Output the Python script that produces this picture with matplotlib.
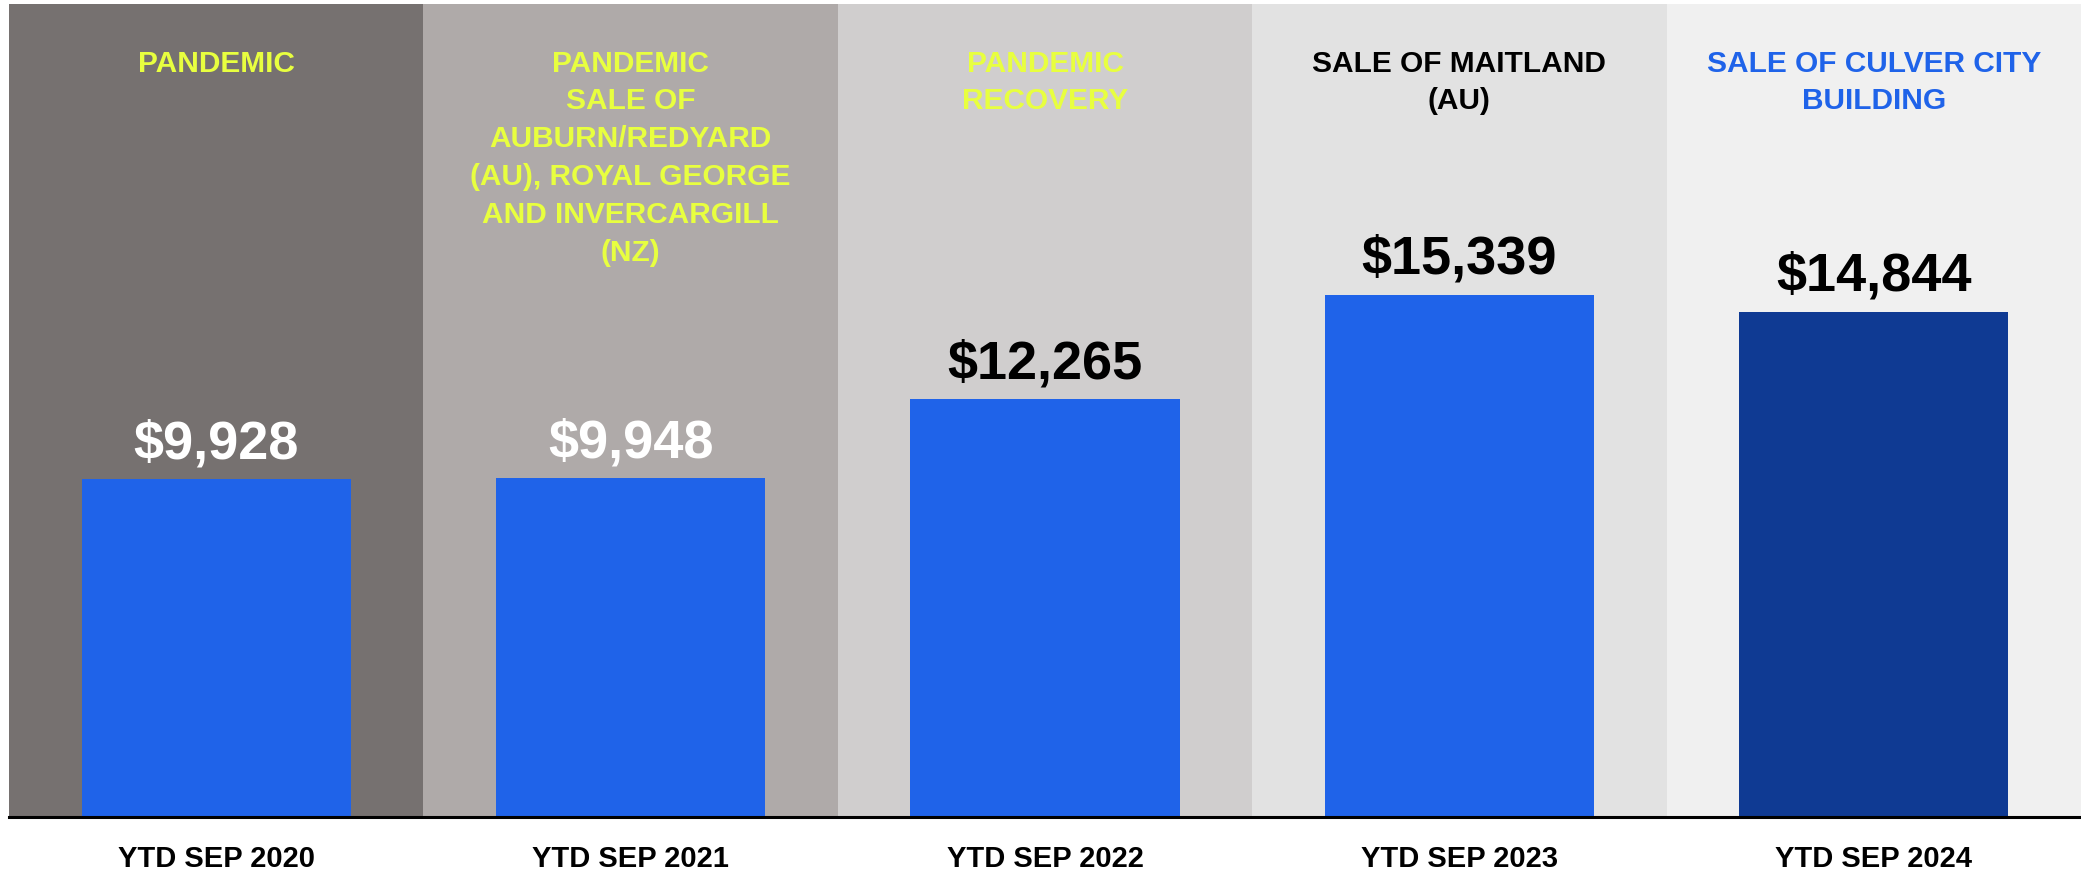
import matplotlib
matplotlib.use("Agg")
import matplotlib.pyplot as plt

# chart data
periods = ["YTD SEP 2020", "YTD SEP 2021", "YTD SEP 2022", "YTD SEP 2023", "YTD SEP 2024"]
values = [9928, 9948, 12265, 15339, 14844]
value_labels = ["$9,928", "$9,948", "$12,265", "$15,339", "$14,844"]
notes = [
	"PANDEMIC",
	"PANDEMIC\nSALE OF\nAUBURN/REDYARD\n(AU), ROYAL GEORGE\nAND INVERCARGILL\n(NZ)",
	"PANDEMIC\nRECOVERY",
	"SALE OF MAITLAND\n(AU)",
	"SALE OF CULVER CITY\nBUILDING",
]

# styling
panel_colors = ["#767170", "#afaaa9", "#d0cece", "#e2e2e2", "#f0f0f0"]
bar_colors = ["#1f63e9", "#1f63e9", "#1f63e9", "#1f63e9", "#0f3a93"]
label_colors = ["white", "white", "black", "black", "black"]
note_colors = ["#e8ff3f", "#e8ff3f", "#e8ff3f", "black", "#1f63e9"]

plt.rcParams["font.family"] = ["Liberation Sans", "DejaVu Sans"]

fig = plt.figure(figsize=(20.81, 8.72), dpi=100)
ax = fig.add_axes([9 / 2081, 1 - 817 / 872, 1 - 9 / 2081, 813 / 872])

x = list(range(len(periods)))
for i in x:
	ax.axvspan(i - 0.5, i + 0.5, color=panel_colors[i], lw=0, zorder=0)

ax.bar(x, values, width=0.65, color=bar_colors, zorder=2)

for i in x:
	ax.annotate(value_labels[i], (i, values[i]), xytext=(0, 15), textcoords="offset points",
				ha="center", va="baseline", fontsize=39, fontweight="bold",
				color=label_colors[i], zorder=3)
	ax.text(i, 0.944, notes[i], transform=ax.get_xaxis_transform(), ha="center", va="top",
			fontsize=21.5, fontweight="bold", color=note_colors[i], linespacing=1.45)

ax.set_xlim(-0.5, len(periods) - 0.5)
ax.set_ylim(0, 23880)
ax.set_xticks(x)
ax.set_xticklabels(periods, fontsize=21, fontweight="bold")
ax.tick_params(axis="x", length=0, pad=20)
ax.set_yticks([])
for s in ["top", "left", "right"]:
	ax.spines[s].set_visible(False)
ax.spines["bottom"].set_linewidth(2.2)
ax.spines["bottom"].set_zorder(4)

fig.savefig("out.png", dpi=100, facecolor="white")
